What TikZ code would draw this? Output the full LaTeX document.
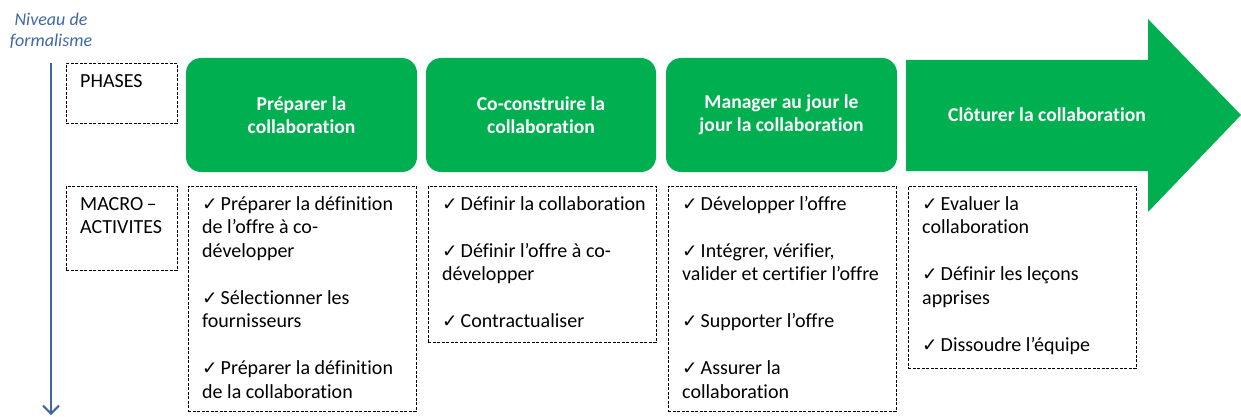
\documentclass[tikz,border=0pt]{standalone}
\usepackage{fontspec}
\setmainfont{Carlito}[RawFeature={-liga;-dlig}]
\newfontfamily\symfont{DejaVu Sans}
\usetikzlibrary{arrows.meta}
\definecolor{pgreen}{HTML}{00B050}
\definecolor{lblue}{HTML}{3F67A8}
\newcommand{\ck}{{\symfont\fontsize{18.5}{18.5}\selectfont ✓}\hspace{3pt}}
\begin{document}
\begin{tikzpicture}[x=1pt,y=-1pt,
  phase/.style={fill=pgreen, rounded corners=15pt, text=white,
    font=\bfseries\fontsize{19.6}{23.5}\selectfont, align=center,
    minimum height=114pt, inner sep=0pt},
  dbox/.style={draw=black, dash pattern=on 3pt off 1.5pt, line width=0.8pt,
    anchor=north west, inner sep=0pt},
  btext/.style={anchor=north west, inner sep=0pt, align=left,
    font=\fontsize{20}{23.5}\selectfont},
  lbl/.style={font=\itshape\fontsize{18}{21}\selectfont, text=lblue, align=center},
]
\path[use as bounding box] (0,0) rectangle (1241,417);

% level label and axis
\node[lbl] (lvl) at (51,31) {Niveau de\\formalisme};
\coordinate (ta) at (51,63);
\coordinate (tb) at (51,415);
\draw[lblue, line width=2pt, -{Straight Barb[length=8pt,width=16pt,line width=2pt]}] (ta) -- (tb);

% row headers
\node[dbox, minimum width=111pt, minimum height=60pt] (hph) at (66,63) {};
\node[btext] (thph) at ([xshift=14pt,yshift=-7.5pt]hph.north west) {\strut PHASES};
\node[dbox, minimum width=111pt, minimum height=84pt] (hma) at (66,186) {};
\node[btext] (thma) at ([xshift=14pt,yshift=-7.5pt]hma.north west) {\strut MACRO\,--\\ACTIVITES};

% phases
\node[phase, minimum width=231pt] (p1) at (301.5,115) {Préparer la\\collaboration};
\node[phase, minimum width=230pt] (p2) at (541,115) {Co-construire la\\collaboration};
\node[phase, minimum width=231pt] (p3) at (781.5,115) {Manager au jour le\\jour la collaboration};
\fill[pgreen] (906,60) -- (1148,60) -- (1148,19) -- (1241,115) -- (1148,212) -- (1148,171) -- (906,171) -- cycle;
\node[font=\bfseries\fontsize{19.6}{23.5}\selectfont, text=white, inner sep=0pt] (p4) at (1047,115) {Clôturer la collaboration};

% macro activities
\node[dbox, minimum width=228pt, minimum height=225pt] (d1) at (188,186) {};
\node[btext] (t1) at ([xshift=14pt,yshift=-7.5pt]d1.north west)
 {\strut\ck Préparer la définition\\de l’offre à co-\\développer\\[23.5pt]
  \ck Sélectionner les\\fournisseurs\\[23.5pt]
  \ck Préparer la définition\\de la collaboration};

\node[dbox, minimum width=228pt, minimum height=156pt] (d2) at (428,186) {};
\node[btext] (t2) at ([xshift=14pt,yshift=-7.5pt]d2.north west)
 {\strut\ck Définir la collaboration\\[23.5pt]
  \ck Définir l’offre à co-\\développer\\[23.5pt]
  \ck Contractualiser};

\node[dbox, minimum width=228pt, minimum height=225pt] (d3) at (668,186) {};
\node[btext] (t3) at ([xshift=14pt,yshift=-7.5pt]d3.north west)
 {\strut\ck Développer l’offre\\[23.5pt]
  \ck Intégrer, vérifier,\\valider et certifier l’offre\\[23.5pt]
  \ck Supporter l’offre\\[23.5pt]
  \ck Assurer la\\collaboration};

\node[dbox, minimum width=228pt, minimum height=182pt] (d4) at (908,186) {};
\node[btext] (t4) at ([xshift=14pt,yshift=-7.5pt]d4.north west)
 {\strut\ck Evaluer la\\collaboration\\[23.5pt]
  \ck Définir les leçons\\apprises\\[23.5pt]
  \ck Dissoudre l’équipe};
\end{tikzpicture}
\end{document}
